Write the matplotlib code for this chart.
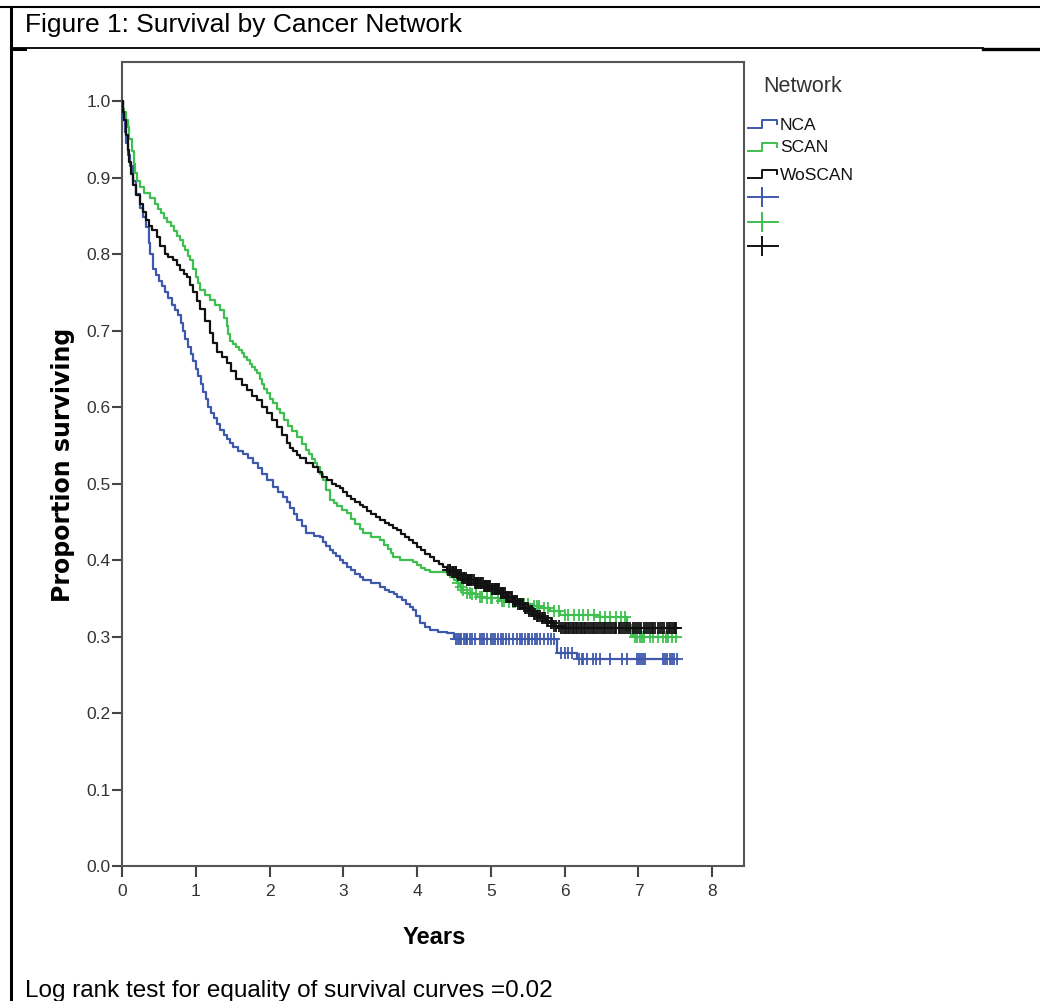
import numpy as np
import matplotlib
matplotlib.use("Agg")
import matplotlib.pyplot as plt
from matplotlib.lines import Line2D

# ---------------- data ----------------
groups = ["NCA", "SCAN", "WoSCAN"]
colors = ["#3e58ac", "#3fbf4f", "#111111"]

nca_t = [0, 0.01, 0.02, 0.04, 0.06, 0.08, 0.11, 0.15, 0.19, 0.24, 0.28, 0.33, 0.36, 0.38,
         0.42, 0.46, 0.5, 0.54, 0.58, 0.63, 0.68, 0.72, 0.76, 0.8, 0.83, 0.86, 0.89, 0.93,
         0.96, 1.0, 1.03, 1.07, 1.1, 1.14, 1.17, 1.21, 1.25, 1.29, 1.33, 1.38, 1.42, 1.46,
         1.5, 1.57, 1.64, 1.71, 1.78, 1.84, 1.9, 1.97, 2.05, 2.12, 2.18, 2.23, 2.28, 2.33,
         2.37, 2.44, 2.5, 2.6, 2.68, 2.73, 2.77, 2.82, 2.86, 2.9, 2.95, 3.0, 3.05, 3.1,
         3.16, 3.22, 3.27, 3.38, 3.5, 3.56, 3.62, 3.68, 3.73, 3.79, 3.85, 3.9, 3.94, 3.99,
         4.04, 4.1, 4.17, 4.28, 4.4, 4.5, 5.9, 6.17, 7.52]
nca_s = [1.0, 0.99, 0.975, 0.96, 0.945, 0.93, 0.915, 0.895, 0.878, 0.86, 0.848, 0.835, 0.815, 0.80,
         0.78, 0.772, 0.765, 0.758, 0.75, 0.742, 0.733, 0.727, 0.72, 0.71, 0.70, 0.689, 0.678, 0.669,
         0.66, 0.65, 0.64, 0.63, 0.62, 0.61, 0.60, 0.592, 0.585, 0.578, 0.57, 0.564, 0.558, 0.553,
         0.548, 0.543, 0.538, 0.533, 0.527, 0.52, 0.512, 0.504, 0.495, 0.489, 0.483, 0.476, 0.468, 0.46,
         0.452, 0.444, 0.435, 0.432, 0.43, 0.424, 0.418, 0.413, 0.409, 0.405, 0.40, 0.396, 0.391, 0.387,
         0.382, 0.378, 0.374, 0.37, 0.365, 0.361, 0.358, 0.355, 0.352, 0.348, 0.343, 0.339, 0.335, 0.327,
         0.318, 0.313, 0.308, 0.306, 0.304, 0.297, 0.279, 0.27, 0.27]
nca_cens = [4.52, 4.55, 4.58, 4.6, 4.63, 4.66, 4.68, 4.72, 4.75, 4.78, 4.85, 4.88, 4.9, 4.95, 5.0,
            5.03, 5.05, 5.1, 5.13, 5.16, 5.2, 5.25, 5.3, 5.35, 5.4, 5.42, 5.46, 5.5, 5.52, 5.55,
            5.6, 5.63, 5.66, 5.72, 5.78, 5.82, 5.85, 5.95, 6.0, 6.05, 6.1, 6.2, 6.23, 6.25, 6.3,
            6.38, 6.43, 6.48, 6.61, 6.78, 6.84, 6.98, 7.01, 7.03, 7.06, 7.09, 7.33, 7.36, 7.38,
            7.43, 7.46, 7.48, 7.52]

scan_t = [0, 0.02, 0.03, 0.05, 0.08, 0.1, 0.13, 0.16, 0.18, 0.21, 0.24, 0.3, 0.38, 0.45,
          0.49, 0.53, 0.57, 0.61, 0.66, 0.7, 0.75, 0.79, 0.83, 0.86, 0.89, 0.92, 0.96, 1.0,
          1.03, 1.06, 1.12, 1.19, 1.26, 1.33, 1.38, 1.42, 1.44, 1.46, 1.5, 1.55, 1.59, 1.62,
          1.66, 1.69, 1.73, 1.76, 1.8, 1.83, 1.87, 1.9, 1.93, 1.96, 2.0, 2.05, 2.1, 2.14,
          2.2, 2.25, 2.31, 2.37, 2.44, 2.5, 2.54, 2.57, 2.61, 2.64, 2.68, 2.72, 2.77, 2.82,
          2.87, 2.92, 2.98, 3.05, 3.1, 3.16, 3.22, 3.27, 3.38, 3.5, 3.55, 3.6, 3.64, 3.67,
          3.77, 3.94, 4.0, 4.05, 4.1, 4.17, 4.4, 4.45, 4.5, 4.54, 4.58, 4.62, 4.67, 4.75,
          4.81, 4.95, 5.12, 5.25, 5.4, 5.55, 5.66, 5.8, 5.93, 6.48, 6.84, 6.93, 7.52]
scan_s = [1.0, 0.99, 0.985, 0.975, 0.966, 0.95, 0.935, 0.918, 0.906, 0.895, 0.888, 0.88, 0.873, 0.865,
          0.859, 0.853, 0.847, 0.842, 0.836, 0.83, 0.824, 0.818, 0.811, 0.805, 0.798, 0.792, 0.781, 0.77,
          0.762, 0.753, 0.747, 0.74, 0.733, 0.727, 0.717, 0.706, 0.696, 0.686, 0.682, 0.679, 0.674, 0.67,
          0.665, 0.661, 0.656, 0.652, 0.648, 0.644, 0.637, 0.63, 0.624, 0.618, 0.611, 0.605, 0.598, 0.592,
          0.583, 0.575, 0.568, 0.561, 0.552, 0.544, 0.538, 0.532, 0.527, 0.522, 0.513, 0.505, 0.492, 0.479,
          0.474, 0.47, 0.465, 0.461, 0.454, 0.447, 0.441, 0.435, 0.43, 0.426, 0.42, 0.414, 0.409, 0.404,
          0.40, 0.398, 0.394, 0.39, 0.387, 0.384, 0.382, 0.378, 0.374, 0.37, 0.365, 0.361, 0.357, 0.355,
          0.352, 0.35, 0.347, 0.345, 0.342, 0.34, 0.337, 0.333, 0.328, 0.325, 0.308, 0.30, 0.30]
scan_cens = [4.55, 4.6, 4.62, 4.68, 4.72, 4.75, 4.8, 4.85, 4.88, 4.95, 5.0, 5.02, 5.1, 5.15, 5.18,
             5.25, 5.3, 5.32, 5.4, 5.45, 5.5, 5.58, 5.62, 5.65, 5.72, 5.78, 5.85, 5.92, 6.0,
             6.05, 6.12, 6.2, 6.25, 6.32, 6.4, 6.48, 6.55, 6.62, 6.7, 6.76, 6.82, 6.9, 6.95,
             6.98, 7.02, 7.05, 7.08, 7.15, 7.2, 7.27, 7.33, 7.37, 7.4, 7.46, 7.51]

wos_t = [0, 0.02, 0.03, 0.05, 0.08, 0.1, 0.12, 0.15, 0.19, 0.24, 0.28, 0.33, 0.37, 0.41,
         0.47, 0.52, 0.58, 0.63, 0.69, 0.74, 0.79, 0.84, 0.88, 0.92, 0.96, 1.01, 1.06, 1.12,
         1.19, 1.24, 1.29, 1.35, 1.42, 1.48, 1.55, 1.62, 1.69, 1.76, 1.83, 1.9, 1.96, 2.03,
         2.1, 2.17, 2.23, 2.28, 2.32, 2.37, 2.41, 2.5, 2.59, 2.65, 2.71, 2.78, 2.85, 2.9,
         2.95, 3.0, 3.05, 3.1, 3.16, 3.22, 3.27, 3.32, 3.38, 3.44, 3.5, 3.56, 3.62, 3.67,
         3.73, 3.78, 3.84, 3.89, 3.94, 4.0, 4.05, 4.11, 4.17, 4.23, 4.3, 4.35, 4.4, 4.47,
         4.55, 4.61, 4.67, 4.78, 4.9, 5.0, 5.12, 5.2, 5.3, 5.37, 5.45, 5.51, 5.57, 5.62,
         5.68, 5.74, 5.8, 5.86, 5.93, 7.52]
wos_s = [1.0, 0.985, 0.975, 0.955, 0.936, 0.92, 0.905, 0.89, 0.877, 0.865, 0.855, 0.844, 0.837, 0.831,
         0.822, 0.81, 0.80, 0.796, 0.792, 0.785, 0.779, 0.774, 0.77, 0.76, 0.75, 0.739, 0.728, 0.712,
         0.697, 0.684, 0.672, 0.665, 0.658, 0.647, 0.636, 0.629, 0.622, 0.615, 0.609, 0.6, 0.592, 0.583,
         0.574, 0.563, 0.553, 0.547, 0.542, 0.537, 0.533, 0.527, 0.522, 0.515, 0.508, 0.504, 0.50, 0.497,
         0.494, 0.489, 0.484, 0.48, 0.476, 0.472, 0.469, 0.464, 0.46, 0.456, 0.452, 0.449, 0.446, 0.442,
         0.439, 0.434, 0.43, 0.426, 0.422, 0.417, 0.413, 0.408, 0.404, 0.399, 0.395, 0.391, 0.387, 0.384,
         0.38, 0.377, 0.374, 0.37, 0.366, 0.362, 0.357, 0.352, 0.346, 0.342, 0.337, 0.333, 0.33, 0.327,
         0.324, 0.32, 0.317, 0.314, 0.311, 0.311]
wos_cens = [4.42, 4.44, 4.45, 4.47, 4.48, 4.5, 4.52, 4.53, 4.55, 4.56, 4.58, 4.6, 4.61, 4.63, 4.64,
            4.66, 4.67, 4.69, 4.7, 4.72, 4.73, 4.75, 4.77, 4.78, 4.8, 4.81, 4.83, 4.84, 4.86,
            4.87, 4.89, 4.9, 4.92, 4.93, 4.95, 4.96, 4.98, 4.99, 5.01, 5.02, 5.04, 5.05, 5.07,
            5.08, 5.1, 5.11, 5.13, 5.14, 5.16, 5.17, 5.19, 5.2, 5.22, 5.23, 5.25, 5.27, 5.29,
            5.3, 5.32, 5.33, 5.35, 5.37, 5.39, 5.4, 5.42, 5.44, 5.46, 5.48, 5.5, 5.52, 5.54,
            5.56, 5.58, 5.6, 5.62, 5.64, 5.67, 5.69, 5.71, 5.73, 5.76, 5.78, 5.81, 5.83, 5.86,
            5.88, 5.92, 5.95, 5.98, 6.0, 6.02, 6.04, 6.06, 6.08, 6.11, 6.13, 6.15, 6.17, 6.2,
            6.22, 6.24, 6.26, 6.28, 6.3, 6.33, 6.35, 6.38, 6.4, 6.43, 6.45, 6.48, 6.5, 6.53,
            6.55, 6.58, 6.6, 6.63, 6.65, 6.68, 6.7, 6.73, 6.75, 6.78, 6.8, 6.83, 6.86, 6.89,
            6.92, 6.95, 6.98, 7.01, 7.04, 7.07, 7.1, 7.13, 7.15, 7.18, 7.2, 7.23, 7.26, 7.29,
            7.32, 7.35, 7.38, 7.41, 7.43, 7.46, 7.48, 7.5, 7.51]

x_ticks = [0, 1, 2, 3, 4, 5, 6, 7, 8]
y_ticks = [0.0, 0.1, 0.2, 0.3, 0.4, 0.5, 0.6, 0.7, 0.8, 0.9, 1.0]

title_text = "Figure 1: Survival by Cancer Network"
note_text = "Log rank test for equality of survival curves =0.02"

# ---------------- figure ----------------
SANS = ["Liberation Sans", "DejaVu Sans"]
W, H = 1040, 1001
fig = plt.figure(figsize=(W / 100, H / 100), dpi=100)

def fx(px):
    return px / W

def fy(py):
    return 1 - py / H

# page frame lines
fig.add_artist(Line2D([0, 1], [fy(7), fy(7)], color="black", lw=1.5))
fig.add_artist(Line2D([fx(11), fx(11)], [fy(7), 0], color="black", lw=2.2))
fig.add_artist(Line2D([fx(11), fx(983)], [fy(48), fy(48)], color="black", lw=1.3))
fig.add_artist(Line2D([fx(983), 1], [fy(49), fy(49)], color="black", lw=2.4))
fig.add_artist(Line2D([fx(11), fx(25)], [fy(49), fy(49)], color="black", lw=2.2))

fig.text(fx(25), fy(32), title_text, fontsize=19, family=SANS,
         va="baseline", ha="left", color="black")
fig.text(fx(25), fy(997), note_text, fontsize=17.5, family=SANS,
         va="baseline", ha="left", color="black")

ax = fig.add_axes([fx(122), fy(866), fx(744) - fx(122), fy(62) - fy(866)])
ax.set_xlim(0, 8.43)
ax.set_ylim(0, 1.051)

series = [(nca_t, nca_s, nca_cens), (scan_t, scan_s, scan_cens), (wos_t, wos_s, wos_cens)]
for (t, s, c), col, name in zip(series, colors, groups):
    t = np.asarray(t)
    s = np.asarray(s)
    ax.plot(t, s, drawstyle="steps-post", color=col, lw=1.6, label=name, zorder=3)
    c = np.asarray(c)
    idx = np.searchsorted(t, c, side="right") - 1
    ax.plot(c, s[idx], linestyle="none", marker="+", ms=8, mew=1.3, color=col, zorder=3)

for sp in ax.spines.values():
    sp.set_color("#555555")
    sp.set_linewidth(1.5)

ax.set_xticks(x_ticks)
ax.set_xticklabels([str(v) for v in x_ticks])
ax.set_yticks(y_ticks)
ax.set_yticklabels([f"{v:.1f}" for v in y_ticks])
ax.tick_params(axis="x", length=8, width=1.5, color="#444444", pad=5,
               labelsize=12.5, labelcolor="#333333")
ax.tick_params(axis="y", length=7, width=1.5, color="#444444", pad=1,
               labelsize=12.5, labelcolor="#333333")
for lab in ax.get_xticklabels() + ax.get_yticklabels():
    lab.set_family(SANS)

fig.text(fx(63), fy(465), "Proportion surviving", rotation=90, fontsize=17,
         fontweight="bold", family="DejaVu Sans", ha="center", va="center", color="black")
fig.text(fx(434), fy(937), "Years", fontsize=17, fontweight="bold", family=SANS,
         ha="center", va="center", color="black")

# legend (drawn manually to match SPSS style)
fig.text(fx(763), fy(86), "Network", fontsize=15.5, family=SANS, ha="left",
         va="center", color="#333333")
entry_y = [125, 148, 175]
for name, col, py in zip(groups, colors, entry_y):
    xs = [fx(748), fx(762), fx(762), fx(777), fx(777)]
    ys = [fy(py + 3), fy(py + 3), fy(py - 5), fy(py - 5), fy(py - 1)]
    fig.add_artist(Line2D(xs, ys, color=col, lw=1.4))
    fig.text(fx(780), fy(py), name, fontsize=12.5, family=SANS, ha="left",
             va="center", color="#111111")
cross_y = [197, 222, 246]
for col, py in zip(colors, cross_y):
    fig.add_artist(Line2D([fx(748), fx(778)], [fy(py), fy(py)], color=col, lw=1.4))
    fig.add_artist(Line2D([fx(762), fx(762)], [fy(py - 9), fy(py + 9)], color=col, lw=1.4))

fig.savefig("out.png", dpi=100)
